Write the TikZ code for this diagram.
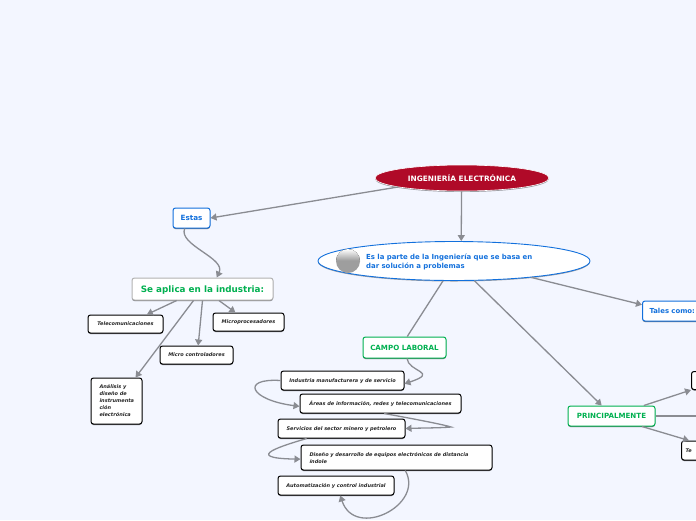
\documentclass[tikz,border=0pt]{standalone}
\usepackage{fontspec}
\setmainfont{DejaVu Sans}
\usetikzlibrary{arrows.meta,shapes.geometric,shadows}
\definecolor{mapbg}{RGB}{243,246,255}
\definecolor{mapred}{RGB}{176,10,40}
\definecolor{mapblue}{RGB}{18,112,220}
\definecolor{mapgreen}{RGB}{0,176,80}
\definecolor{mapline}{RGB}{138,140,146}
\tikzset{
  linkline/.style={draw=mapline,line width=1.3pt,-{Triangle[length=6pt,width=7pt]}},
  plainline/.style={draw=mapline,line width=1.3pt},
  mapbox/.style={rectangle,rounded corners=2.5pt,fill=white,inner sep=0pt,text depth=0pt,
    drop shadow={shadow xshift=0pt,shadow yshift=-1pt,opacity=0.55,fill=black}},
  blackbox/.style={mapbox,draw=black,line width=1pt,font=\fontsize{5}{7}\selectfont\bfseries\itshape,text=black!85},
  bluebox/.style={mapbox,draw=mapblue,line width=1pt,font=\fontsize{7.2}{9}\selectfont\bfseries,text=mapblue},
  greenbox/.style={mapbox,draw=mapgreen,line width=1pt,font=\fontsize{7.1}{9}\selectfont\bfseries,text=mapgreen},
}
\begin{document}
\begin{tikzpicture}[x=1pt,y=-1pt]
  \useasboundingbox[fill=mapbg] (0,0) rectangle (696,520);
  % central ellipses
  \node[ellipse,fill=mapred,draw=white,line width=0.6pt,minimum width=174pt,minimum height=26pt,inner sep=0pt,
    drop shadow={shadow xshift=0pt,shadow yshift=-1pt,opacity=0.4,fill=black},
    text=white,font=\fontsize{7.4}{9}\selectfont\bfseries] (root) at (462,178) {INGENIERÍA ELECTRÓNICA};
  \node[ellipse,fill=white,draw=mapblue,line width=0.9pt,minimum width=272pt,minimum height=39pt,inner sep=0pt,
    drop shadow={shadow xshift=0pt,shadow yshift=-1pt,opacity=0.35,fill=black}] (defn) at (454,261) {};
  \node[anchor=west,text width=180pt,inner sep=0pt,text=mapblue,font=\fontsize{6.95}{8.2}\selectfont\bfseries] (defntext) at (366,262)
    {Es la parte de la Ingeniería que se basa en\\dar solución a problemas};
  \fill[top color=white,bottom color=black!40] (336,261) arc[start angle=180,end angle=0,radius=12pt] -- cycle;
  \fill[black!38] (336,261) arc[start angle=180,end angle=360,radius=12pt] -- cycle;
  % left branch
  \node[bluebox,minimum width=37pt,minimum height=20pt] (estas) at (191.5,218) {Estas};
  \node[mapbox,draw=black!30,line width=1pt,minimum width=141pt,minimum height=22pt,text=mapgreen,
    font=\fontsize{8.8}{11}\selectfont\bfseries] (industria) at (202.5,289) {Se aplica en la industria:};
  \node[blackbox,minimum width=75pt,minimum height=18pt] (telecom) at (125.5,324) {Telecomunicaciones};
  \node[blackbox,minimum width=71pt,minimum height=18pt] (micropro) at (248.5,322) {Microprocesadores};
  \node[blackbox,minimum width=73pt,minimum height=18pt] (microcon) at (196.5,355) {Micro controladores};
  \node[blackbox,text depth=,minimum width=51pt,minimum height=46pt,text width=34pt,align=left] (analisis) at (116.5,401)
    {Análisis y\\diseño de\\instrumenta\\ción\\electrónica};
  % campo laboral
  \node[greenbox,minimum width=83pt,minimum height=21pt] (campo) at (404.5,347.5) {CAMPO LABORAL};
  \node[blackbox,minimum width=123pt,minimum height=19pt] (manufactura) at (342.5,380.5) {Industria manufacturera y de servicio};
  \node[blackbox,minimum width=161pt,minimum height=19pt] (areas) at (380.5,403.5) {Áreas de información, redes y telecomunicaciones};
  \node[blackbox,minimum width=127pt,minimum height=19pt] (servicios) at (341.5,428.5) {Servicios del sector minero y petrolero};
  \node[blackbox,text depth=6pt,minimum width=191pt,minimum height=25pt,text width=174pt,align=left] (diseno) at (396.5,457.5)
    {Diseño y desarrollo de equipos electrónicos de distancia\\índole};
  \node[blackbox,minimum width=116pt,minimum height=19pt] (automat) at (336,485.5) {Automatización y control industrial};
  % right branch
  \node[greenbox,minimum width=87pt,minimum height=20pt] (principal) at (611.5,416) {PRINCIPALMENTE};
  \node[bluebox,font=\fontsize{6.9}{9}\selectfont\bfseries,minimum width=78pt,minimum height=20pt,anchor=west,align=left,text width=64pt] (tales) at (642,311) {Tales como:};
  \node[blackbox,minimum width=40pt,minimum height=18pt,anchor=west] (rightup) at (691,380.5) {};
  \node[blackbox,minimum width=60pt,minimum height=19pt,anchor=west,text width=52pt] (rightlow) at (681,450.5) {Te};
  \coordinate (rightmid) at (700,416);
  % connectors
  \draw[linkline] (root.268) -- (defn.70);
  \draw[linkline] (root.188) -- (estas.east);
  \draw[linkline] (estas.237) .. controls (178,245) and (226,258) .. (industria.39);
  \draw[linkline] (industria.204) -- (telecom.24);
  \draw[linkline] (industria.270) -- (microcon.80);
  \draw[linkline] (industria.-35) -- (micropro.144);
  \draw[linkline] (industria.232) -- (analisis.51);
  \draw[plainline] (defn.241) -- (campo.76);
  \draw[linkline] (defn.-44) -- (principal.133);
  \draw[linkline] (defn.-12.7) -- (tales.171);
  \draw[linkline] (campo.-77) .. controls (408,372) and (440,372) .. (manufactura.-3);
  \draw[linkline] (manufactura.west) .. controls (240,378) and (250,400) .. (areas.182.5);
  \draw[linkline] (areas.-70) .. controls (420,420) and (445,425) .. (451,427) .. controls (440,428) and (420,428) .. (servicios.east);
  \draw[linkline] (servicios.196) .. controls (285,445) and (240,458) .. (diseno.181);
  \draw[linkline] (diseno.-56) .. controls (425,505) and (355,540) .. (automat.-67);
  \draw[linkline] (principal.18) -- (rightup.south west);
  \draw[linkline] (principal.-19) -- (rightlow.156);
  \draw[plainline,line width=1.7pt] (principal.east) -- (rightmid);
\end{tikzpicture}
\end{document}
